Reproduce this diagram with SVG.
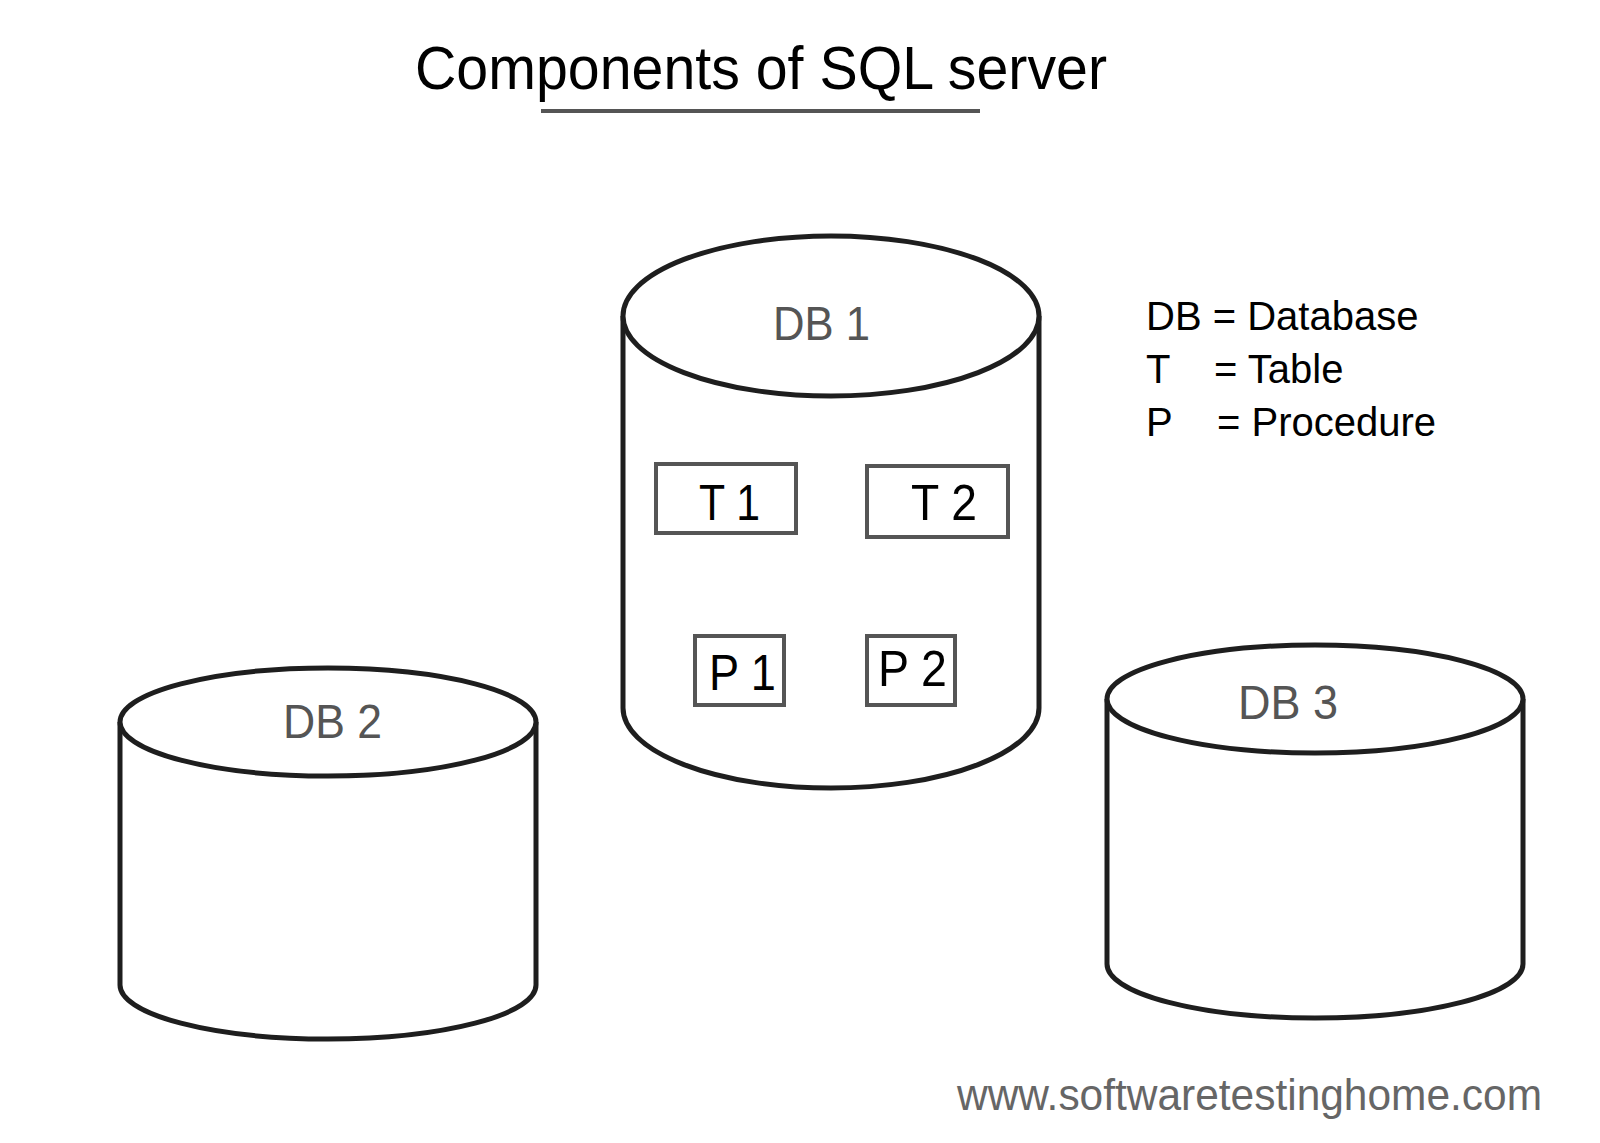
<svg xmlns="http://www.w3.org/2000/svg" width="1600" height="1143" viewBox="0 0 1600 1143">
<style>
.cyl{fill:#fff;stroke:#1e1e1e;stroke-width:5;stroke-linejoin:round}
.box{fill:#fff;stroke:#555;stroke-width:4}
.dbl{font-family:"Liberation Sans",Arial,sans-serif;font-size:48px;fill:#555}
.lbl{font-family:"Liberation Sans",Arial,sans-serif;font-size:50px;fill:#000}
.leg{font-family:"Liberation Sans",Arial,sans-serif;font-size:40px;fill:#000}
</style>
<rect width="1600" height="1143" fill="#fff"/>
<g id="title">
<text x="415" y="89" font-family="Liberation Sans, Arial, sans-serif" font-size="62" textLength="692" lengthAdjust="spacingAndGlyphs" fill="#000">Components of SQL server</text>
<line x1="541" y1="111" x2="980" y2="111" stroke="#555" stroke-width="4"/>
</g>
<g id="connectors"></g>
<g id="db1">
<path class="cyl" d="M623,316 L623,708 A208,80 0 0 0 1039,708 L1039,316"/>
<ellipse class="cyl" cx="831" cy="316" rx="208" ry="80"/>
<text class="dbl" x="773" y="340" textLength="97" lengthAdjust="spacingAndGlyphs">DB 1</text>
</g>
<g id="t1">
<rect class="box" x="656" y="464" width="140" height="69"/>
<text class="lbl" x="699" y="520" textLength="61" lengthAdjust="spacingAndGlyphs">T 1</text>
</g>
<g id="t2">
<rect class="box" x="867" y="466" width="141" height="71"/>
<text class="lbl" x="911" y="520" textLength="66" lengthAdjust="spacingAndGlyphs">T 2</text>
</g>
<g id="p1">
<rect class="box" x="695" y="636" width="89" height="69"/>
<text class="lbl" x="709" y="690" textLength="67" lengthAdjust="spacingAndGlyphs">P 1</text>
</g>
<g id="p2">
<rect class="box" x="867" y="636" width="88" height="69"/>
<text class="lbl" x="878" y="686" textLength="69" lengthAdjust="spacingAndGlyphs">P 2</text>
</g>
<g id="db2">
<path class="cyl" d="M120,722 L120,985 A208,54 0 0 0 536,985 L536,722"/>
<ellipse class="cyl" cx="328" cy="722" rx="208" ry="54"/>
<text class="dbl" x="283" y="738" textLength="99" lengthAdjust="spacingAndGlyphs">DB 2</text>
</g>
<g id="db3">
<path class="cyl" d="M1107,699 L1107,964 A208,54 0 0 0 1523,964 L1523,699"/>
<ellipse class="cyl" cx="1315" cy="699" rx="208" ry="54"/>
<text class="dbl" x="1238" y="719" textLength="100" lengthAdjust="spacingAndGlyphs">DB 3</text>
</g>
<g id="legend">
<text class="leg" x="1146" y="330">DB = Database</text>
<text class="leg" y="383"><tspan x="1146">T</tspan><tspan x="1214">= Table</tspan></text>
<text class="leg" y="436"><tspan x="1146">P</tspan><tspan x="1217">= Procedure</tspan></text>
</g>
<g id="watermark">
<text x="957" y="1110" font-family="Liberation Sans, Arial, sans-serif" font-size="44" textLength="585" lengthAdjust="spacingAndGlyphs" fill="#666">www.softwaretestinghome.com</text>
</g>
</svg>
